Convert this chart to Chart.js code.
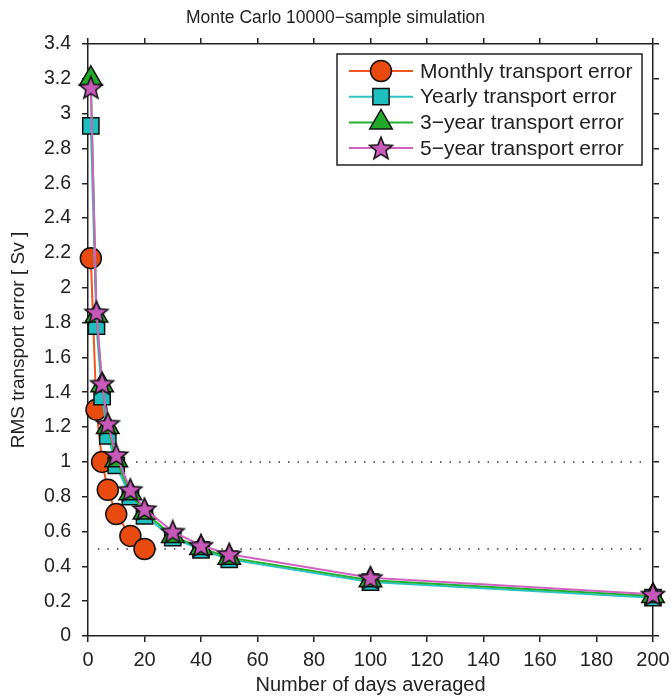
<!DOCTYPE html>
<html>
<head>
<meta charset="utf-8">
<script src="https://cdn.jsdelivr.net/npm/chart.js@4.4.1/dist/chart.umd.min.js"></script>
<style>
  html, body { margin: 0; padding: 0; background: #fff; }
  #wrap { width: 671px; height: 697px; }
</style>
</head>
<body>
<div id="wrap"><canvas id="rms-chart"></canvas></div>
<script>
// Tick labels
const xTicks = [0, 20, 40, 60, 80, 100, 120, 140, 160, 180, 200];
const yTicks = [0, 0.2, 0.4, 0.6, 0.8, 1, 1.2, 1.4, 1.6, 1.8, 2, 2.2, 2.4, 2.6, 2.8, 3, 3.2, 3.4];

// Number of days averaged
const daysMonthly = [1, 3, 5, 7, 10, 15, 20];
const days = [1, 3, 5, 7, 10, 15, 20, 30, 40, 50, 100, 200];

// RMS transport error [Sv]
const monthlyErr = [2.17, 1.30, 1.00, 0.84, 0.70, 0.575, 0.50];
const yearlyErr = [2.93, 1.78, 1.375, 1.15, 0.98, 0.80, 0.69, 0.565, 0.495, 0.44, 0.31, 0.22];
const threeYearErr = [3.20, 1.84, 1.44, 1.20, 1.01, 0.82, 0.71, 0.575, 0.505, 0.45, 0.32, 0.23];
const fiveYearErr = [3.15, 1.86, 1.45, 1.22, 1.04, 0.84, 0.73, 0.60, 0.52, 0.47, 0.335, 0.24];

// Dotted reference levels
const levelOneX = [17, 197];
const levelOneY = [1, 1];
const levelHalfX = [3.5, 197];
const levelHalfY = [0.5, 0.5];

const seriesNames = [
    'Monthly transport error',
    'Yearly transport error',
    '3\u2212year transport error',
    '5\u2212year transport error'
];

const FONT = '"Liberation Sans", Arial, Helvetica, sans-serif';
const INK = '#222222';

// Pentagram marker (Chart.js has no filled 5-point star)
function makeStar(outerR, innerR, fill) {
    const size = Math.ceil(outerR * 2 + 4);
    const c = document.createElement('canvas');
    c.width = size;
    c.height = size;
    const ctx = c.getContext('2d');
    const cx = size / 2, cy = size / 2 + 1;
    ctx.beginPath();
    for (let i = 0; i < 10; i++) {
        const r = i % 2 === 0 ? outerR : innerR;
        const a = -Math.PI / 2 + i * Math.PI / 5;
        const px = cx + r * Math.cos(a);
        const py = cy + r * Math.sin(a);
        if (i === 0) ctx.moveTo(px, py); else ctx.lineTo(px, py);
    }
    ctx.closePath();
    ctx.fillStyle = fill;
    ctx.fill();
    ctx.lineWidth = 1.5;
    ctx.lineJoin = 'miter';
    ctx.strokeStyle = '#111';
    ctx.stroke();
    return c;
}

const starImg = makeStar(12, 5.2, '#c759b9');

function toPoints(xs, ys) {
    return xs.map((x, i) => ({ x: x, y: ys[i] }));
}

const series = [
    { line: '#f0561e', fill: '#e84a0f', style: 'circle', radius: 10.5 },
    { line: '#2cc4c4', fill: '#1fbfbf', style: 'rect', radius: 11.5 },
    { line: '#22b032', fill: '#22a82a', style: 'triangle', radius: 13 },
    { line: '#d262c2', fill: '#c759b9', style: starImg, radius: 12 }
];

function lineDataset(idx, xs, ys) {
    const s = series[idx];
    return {
        label: seriesNames[idx],
        data: toPoints(xs, ys),
        borderColor: s.line,
        borderWidth: 2,
        backgroundColor: s.fill,
        pointStyle: s.style,
        pointRadius: s.radius,
        pointHoverRadius: s.radius,
        pointBorderColor: '#111',
        pointBorderWidth: 1.5,
        pointBackgroundColor: s.fill,
        tension: 0,
        fill: false,
        clip: false,
        order: 4 - idx
    };
}

function levelDataset(xs, ys) {
    return {
        label: '',
        data: toPoints(xs, ys),
        borderColor: '#333',
        borderWidth: 1.5,
        borderDash: [1.5, 8],
        pointRadius: 0,
        fill: false,
        order: 10
    };
}

// Legend box with line + marker samples, upper right of the axes
const boxLegend = {
    id: 'boxLegend',
    afterDraw(chart) {
        const ctx = chart.ctx;
        const area = chart.chartArea;
        const w = 305, h = 111;
        const left = area.right - 11 - w;
        const top = area.top + 10;
        ctx.save();
        ctx.fillStyle = '#fff';
        ctx.fillRect(left, top, w, h);
        ctx.lineWidth = 1.5;
        ctx.strokeStyle = INK;
        ctx.strokeRect(left, top, w, h);
        ctx.font = '21px ' + FONT;
        ctx.textBaseline = 'middle';
        ctx.textAlign = 'left';
        series.forEach((s, i) => {
            const y = top + 17 + i * 25.7;
            ctx.beginPath();
            ctx.moveTo(left + 12, y);
            ctx.lineTo(left + 76, y);
            ctx.lineWidth = 2;
            ctx.strokeStyle = s.line;
            ctx.stroke();
            ctx.fillStyle = s.fill;
            ctx.strokeStyle = '#111';
            ctx.lineWidth = 1.5;
            Chart.helpers.drawPoint(ctx, {
                pointStyle: s.style,
                radius: s.radius,
                rotation: 0,
                borderWidth: 1.5
            }, left + 44, y);
            ctx.fillStyle = INK;
            ctx.fillText(seriesNames[i], left + 83, y + 1);
        });
        ctx.restore();
    }
};

const axisGrid = { drawOnChartArea: false, drawTicks: true, tickLength: 6, color: INK, lineWidth: 1.5 };
const axisBorder = { color: INK, width: 1.5 };

// fixed axis boxes, no extra room for overhanging end labels
function fixHeight(h) {
    return s => { s.height = h; s.paddingLeft = 0; s.paddingRight = 0; };
}
function fixWidth(w) {
    return s => { s.width = w; s.paddingTop = 0; s.paddingBottom = 0; };
}

const ctx = document.getElementById('rms-chart').getContext('2d');
const rmsChart = new Chart(ctx, {
    type: 'line',
    data: {
        datasets: [
            lineDataset(0, daysMonthly, monthlyErr),
            lineDataset(1, days, yearlyErr),
            lineDataset(2, days, threeYearErr),
            lineDataset(3, days, fiveYearErr),
            levelDataset(levelOneX, levelOneY),
            levelDataset(levelHalfX, levelHalfY)
        ]
    },
    options: {
        responsive: true,
        maintainAspectRatio: false,
        animation: false,
        layout: { padding: 0 },
        plugins: {
            legend: { display: false },
            tooltip: { enabled: false },
            title: {
                display: true,
                text: 'Monte Carlo 10000\u2212sample simulation',
                color: INK,
                font: { family: FONT, size: 17.5, weight: 'normal' },
                padding: { top: 8, bottom: 6 }
            }
        },
        scales: {
            x: {
                type: 'linear',
                position: 'bottom',
                min: 0,
                max: 200,
                afterBuildTicks: s => { s.ticks = xTicks.map(v => ({ value: v })); },
                afterFit: fixHeight(61),
                ticks: { color: INK, font: { family: FONT, size: 20 }, padding: 6, maxRotation: 0, autoSkip: false },
                grid: axisGrid,
                border: axisBorder,
                title: {
                    display: true,
                    text: 'Number of days averaged',
                    color: INK,
                    font: { family: FONT, size: 20 },
                    padding: { top: 0, bottom: 0 }
                }
            },
            x2: {
                type: 'linear',
                position: 'top',
                display: true,
                min: 0,
                max: 200,
                afterBuildTicks: s => { s.ticks = xTicks.map(v => ({ value: v })); },
                afterFit: fixHeight(9),
                ticks: { display: false },
                grid: axisGrid,
                border: axisBorder
            },
            y: {
                type: 'linear',
                position: 'left',
                min: 0,
                max: 3.4,
                afterBuildTicks: s => { s.ticks = yTicks.map(v => ({ value: v })); },
                afterFit: fixWidth(88),
                ticks: {
                    color: INK,
                    font: { family: FONT, size: 19.5 },
                    padding: 11,
                    autoSkip: false,
                    callback: v => String(Math.round(v * 10) / 10)
                },
                grid: axisGrid,
                border: axisBorder,
                title: {
                    display: true,
                    text: 'RMS transport error [ Sv ]',
                    color: INK,
                    font: { family: FONT, size: 19 },
                    padding: { top: 7, bottom: 0 }
                }
            },
            y2: {
                type: 'linear',
                position: 'right',
                display: true,
                min: 0,
                max: 3.4,
                afterBuildTicks: s => { s.ticks = yTicks.map(v => ({ value: v })); },
                afterFit: fixWidth(18),
                ticks: { display: false },
                grid: axisGrid,
                border: axisBorder
            }
        }
    },
    plugins: [boxLegend]
});
</script>
</body>
</html>
